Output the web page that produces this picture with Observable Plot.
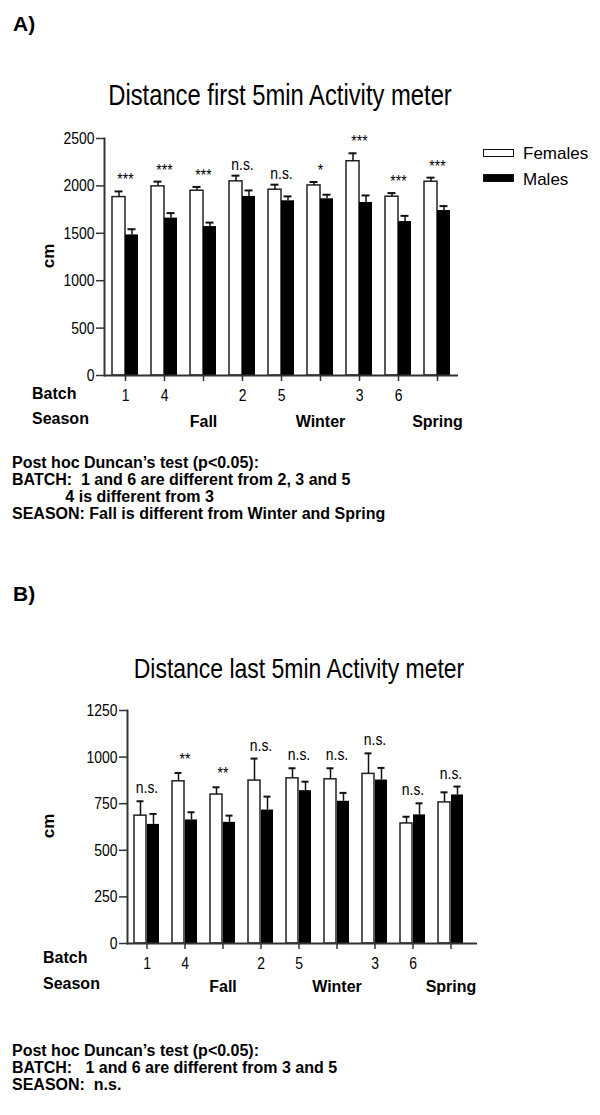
<!DOCTYPE html>
<html><head><meta charset="utf-8">
<script src="https://cdn.jsdelivr.net/npm/d3@7"></script>
<script src="https://cdn.jsdelivr.net/npm/@observablehq/plot@0.6"></script>
<style>
body{margin:0;background:#fff;}
#root{position:relative;width:600px;height:1115px;overflow:hidden;font-family:"Liberation Sans",Arial,sans-serif;color:#000;}
.abs{position:absolute;white-space:pre;margin:0;}
.bold{font-weight:bold;}
</style></head><body><div id="root"></div>
<script>
// ---- data ----
const groups = ["1", "4", "Fall", "2", "5", "Winter", "3", "6", "Spring"];
const batchLabels = ["1", "4", "", "2", "5", "", "3", "6", ""];
const seasonLabels = ["", "", "Fall", "", "", "Winter", "", "", "Spring"];

const femalesA    = [1882, 1995, 1949, 2048, 1960, 2005, 2260, 1886, 2044];
const femalesErrA = [60, 50, 40, 60, 53, 36, 84, 38, 43];
const malesA      = [1483, 1660, 1571, 1889, 1843, 1864, 1825, 1624, 1740];
const malesErrA   = [60, 53, 42, 63, 46, 43, 74, 60, 47];
const sigA        = ["***", "***", "***", "n.s.", "n.s.", "*", "***", "***", "***"];
const yTicksA     = [0, 500, 1000, 1500, 2000, 2500];

const femalesB    = [686, 870, 799, 874, 886, 881, 910, 644, 757];
const femalesErrB = [77, 45, 39, 118, 54, 59, 110, 36, 54];
const malesB      = [639, 663, 650, 716, 820, 763, 877, 690, 797];
const malesErrB   = [56, 41, 36, 72, 48, 45, 65, 62, 45];
const sigB        = ["n.s.", "**", "**", "n.s.", "n.s.", "n.s.", "n.s.", "n.s.", "n.s."];
const yTicksB     = [0, 250, 500, 750, 1000, 1250];

const legendLabels = ["Females", "Males"];
const titleA = "Distance first 5min Activity meter";
const titleB = "Distance last 5min Activity meter";
const statsA = ["Post hoc Duncan\u2019s test (p<0.05):", "BATCH:  1 and 6 are different from 2, 3 and 5", "            4 is different from 3", "SEASON: Fall is different from Winter and Spring"];
const statsB = ["Post hoc Duncan\u2019s test (p<0.05):", "BATCH:   1 and 6 are different from 3 and 5", "SEASON:  n.s."];

const FONT = '"Liberation Sans",Arial,sans-serif';
const NARROW = 0.82; // horizontal condensing of the narrow typeface
const root = document.getElementById("root");

function addText(txt, x, y, cls, css) {
  const d = document.createElement("div");
  d.className = "abs " + (cls || "");
  d.textContent = txt;
  d.style.left = x + "px"; d.style.top = y + "px";
  Object.assign(d.style, css || {});
  root.appendChild(d);
  return d;
}

function condense(nodes) {
  nodes.forEach(t => {
    const xa = t.getAttribute("x");
    const x = xa && /^-?[\d.]+$/.test(xa) ? +xa : 0;
    const tr = t.getAttribute("transform") || "";
    t.setAttribute("transform", `${tr} translate(${x},0) scale(${NARROW},1) translate(${-x},0)`.trim());
  });
}

function panel(o) {
  const rows = groups.map((g, i) => ({
    group: g, f: o.fem[i], fe: o.femErr[i], m: o.mal[i], me: o.malErr[i], sig: o.sig[i],
    season: seasonLabels[i],
    top: Math.max(o.fem[i] + o.femErr[i], o.mal[i] + o.malErr[i])
  }));
  const svg = Plot.plot({
    width: 600, height: o.height,
    marginLeft: o.left, marginRight: 600 - o.right, marginTop: 20, marginBottom: o.height - 20 - o.frameH,
    style: {fontFamily: FONT, fontSize: "17px", color: "#000", background: "transparent", overflow: "visible"},
    x: {type: "band", domain: groups, paddingInner: o.pi, paddingOuter: o.po, align: o.align},
    y: {domain: [0, o.yMax]},
    marks: [
      Plot.barY(rows, {x: "group", y: "f", fill: "white", stroke: "#222", strokeWidth: 1.5, insetRight: 13}),
      Plot.barY(rows, {x: "group", y: "m", fill: "black", insetLeft: 13}),
      Plot.ruleX(rows, {x: "group", y1: "f", y2: d => d.f + d.fe, dx: -6.5, stroke: "#111", strokeWidth: 1.5}),
      Plot.tickY(rows, {x: "group", y: d => d.f + d.fe, insetLeft: 2.5, insetRight: 15.5, stroke: "#111", strokeWidth: 2}),
      Plot.ruleX(rows, {x: "group", y1: "m", y2: d => d.m + d.me, dx: 6.5, stroke: "#111", strokeWidth: 1.5}),
      Plot.tickY(rows, {x: "group", y: d => d.m + d.me, insetLeft: 15.5, insetRight: 2.5, stroke: "#111", strokeWidth: 2}),
      Plot.ruleY([0], {stroke: "#333", strokeWidth: 2}),
      Plot.frame({anchor: "left", stroke: "#333", strokeWidth: 2}),
      Plot.axisY({ticks: o.yTicks, tickFormat: d => String(d), tickSize: 8, tickPadding: 2, label: null, stroke: "#333", strokeWidth: 1.5}),
      Plot.axisX({tickFormat: d => batchLabels[groups.indexOf(d)], tickSize: 6, tickPadding: 7, label: null, stroke: "#333", strokeWidth: 1.5}),
      Plot.text(rows, {x: "group", y: "top", text: "sig", dy: o.sigDy, lineAnchor: "bottom", fontSize: 17}),
      Plot.text(rows, {x: "group", text: "season", frameAnchor: "bottom", dy: o.seasonDy, lineAnchor: "bottom", fontWeight: "bold", fontSize: 16})
    ]
  });
  // narrow typeface for tick labels and significance marks
  condense(svg.querySelectorAll('g[aria-label="y-axis tick label"] text'));
  condense(svg.querySelectorAll('g[aria-label="x-axis tick label"] text'));
  const textGroups = svg.querySelectorAll('g[aria-label="text"]');
  if (textGroups.length) condense(textGroups[0].querySelectorAll("text"));
  svg.style.position = "absolute";
  svg.style.left = "0px";
  svg.style.top = o.top + "px";
  root.appendChild(svg);
}

// Panel A
addText("A)", 13, 13, "bold", {fontSize: "21px", lineHeight: "21px"});
addText(titleA, 280, 81, "", {fontSize: "29px", lineHeight: "29px", transform: `translateX(-50%) scaleX(${NARROW})`});
panel({fem: femalesA, femErr: femalesErrA, mal: malesA, malErr: malesErrA, sig: sigA, yMax: 2500, yTicks: yTicksA,
  top: 118, height: 330, frameH: 237, left: 104, right: 458, pi: 0.342, po: 0.152, align: 0.5, sigDy: -6, seasonDy: 51});
addText("cm", 48, 256, "bold", {fontSize: "17px", lineHeight: "17px", transform: "translate(-50%,-50%) rotate(-90deg)"});
addText("Batch", 32, 385.5, "bold", {fontSize: "16px", lineHeight: "16px"});
addText("Season", 32, 411, "bold", {fontSize: "16px", lineHeight: "16px"});
// legend
const lg = [[legendLabels[0], "white", 149, 145], [legendLabels[1], "black", 174, 171]];
lg.forEach(([lab, fill, by, ty]) => {
  const b = document.createElement("div");
  b.className = "abs";
  Object.assign(b.style, {left: "483px", top: by + "px", width: "31px", height: "8px", boxSizing: "border-box",
    background: fill, border: "1.5px solid #111"});
  root.appendChild(b);
  addText(lab, 523, ty, "", {fontSize: "17px", lineHeight: "17px"});
});
statsA.forEach((s, i) => addText(s, 12, 454 + i * 17, "bold", {fontSize: "16px", lineHeight: "17px"}));

// Panel B
addText("B)", 13, 583, "bold", {fontSize: "21px", lineHeight: "21px"});
addText(titleB, 299, 655, "", {fontSize: "28px", lineHeight: "28px", transform: `translateX(-50%) scaleX(${NARROW})`});
panel({fem: femalesB, femErr: femalesErrB, mal: malesB, malErr: malesErrB, sig: sigB, yMax: 1250, yTicks: yTicksB,
  top: 690, height: 320, frameH: 233, left: 127, right: 477, pi: 0.333, po: 0.154, align: 0.33, sigDy: -8, seasonDy: 48});
addText("cm", 48, 826, "bold", {fontSize: "17px", lineHeight: "17px", transform: "translate(-50%,-50%) rotate(-90deg)"});
addText("Batch", 43, 950, "bold", {fontSize: "16px", lineHeight: "16px"});
addText("Season", 43, 976, "bold", {fontSize: "16px", lineHeight: "16px"});
statsB.forEach((s, i) => addText(s, 12, 1042 + i * 17, "bold", {fontSize: "16px", lineHeight: "17px"}));
</script>
</body></html>
